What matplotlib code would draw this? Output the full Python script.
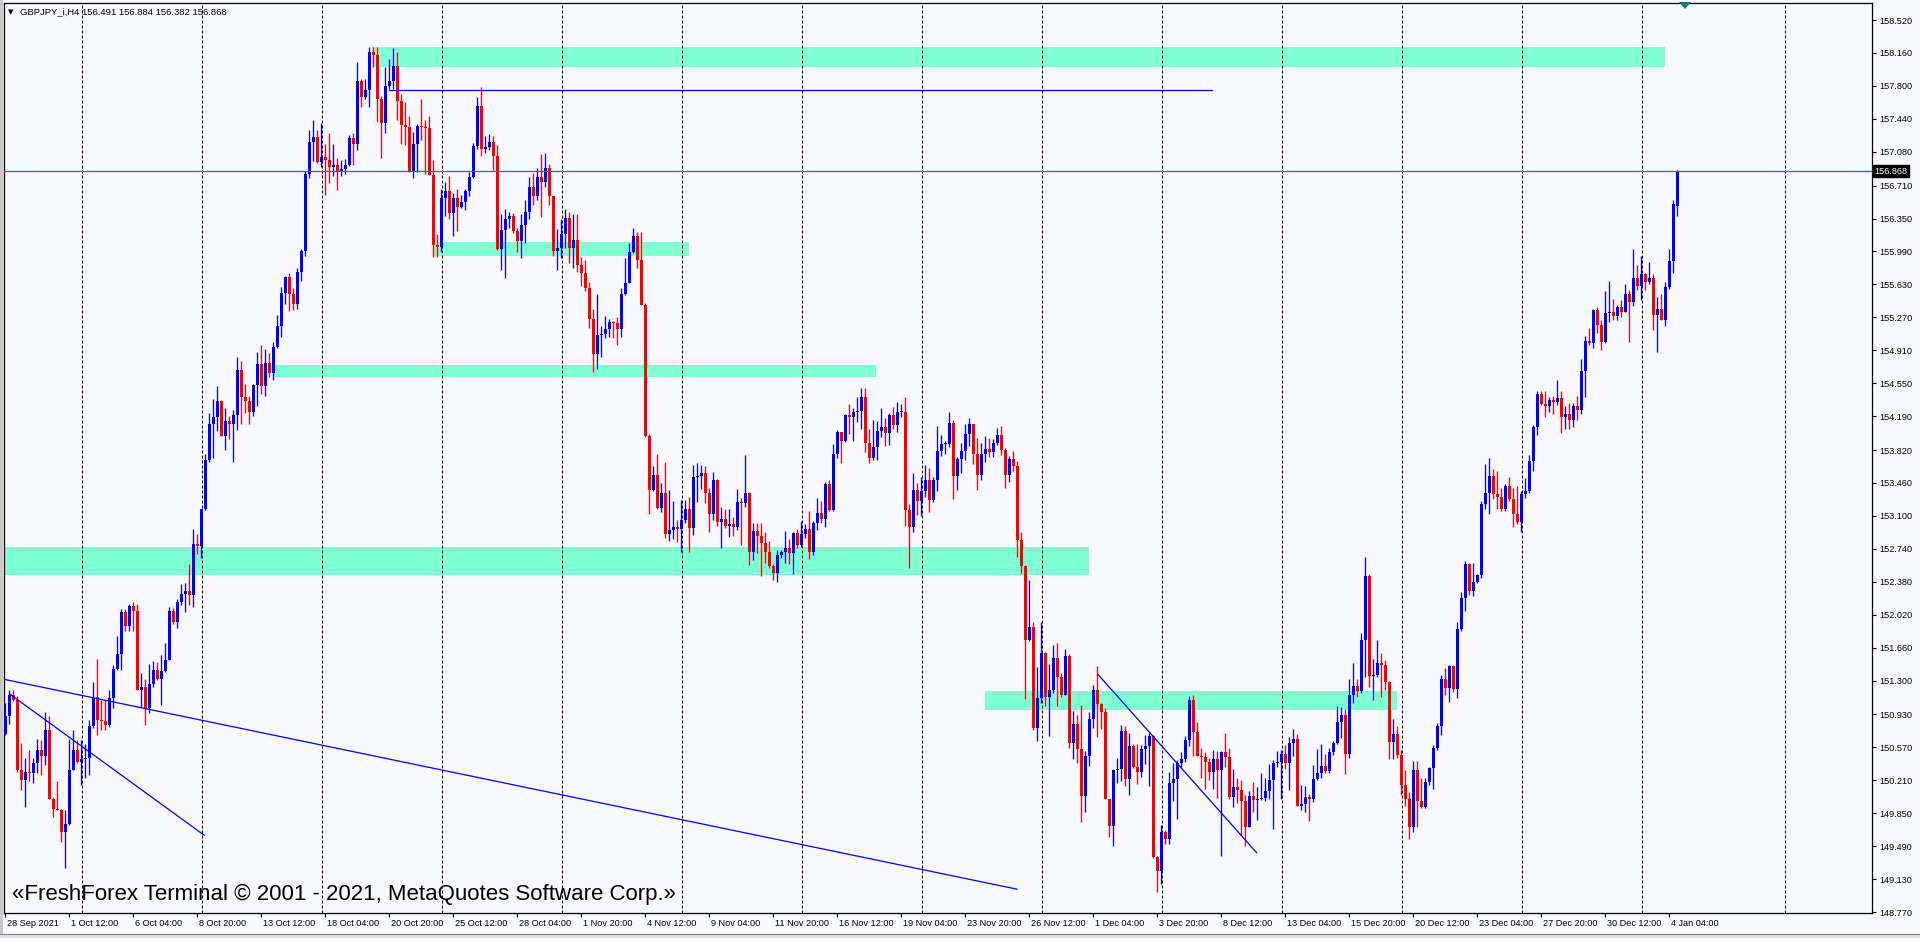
import numpy as np
import matplotlib
matplotlib.use('Agg')
import matplotlib.pyplot as plt
import matplotlib.transforms as mtransforms
from matplotlib.patches import Rectangle, Polygon

plt.rcParams['font.family'] = ['Liberation Sans', 'DejaVu Sans']

# GBPJPY_i H4 candles (open = previous close)
first_open = 150.72
close = [
    150.91, 151.14, 151.09, 150.32, 150.21, 150.30, 150.29, 150.40, 150.54, 150.47,
    150.76, 150.01, 149.90, 149.89, 149.64, 149.73, 150.32, 150.54, 150.41, 150.44,
    150.45, 150.80, 151.12, 150.87, 150.86, 150.81, 151.11, 151.43, 151.59, 152.05,
    151.90, 152.12, 152.06, 151.20, 151.23, 151.00, 151.26, 151.42, 151.32, 151.40,
    151.53, 152.06, 151.94, 152.16, 152.25, 152.28, 152.23, 152.79, 152.77, 153.17,
    153.71, 154.10, 154.18, 154.36, 153.97, 154.14, 154.10, 154.20, 154.69, 154.40,
    154.36, 154.24, 154.53, 154.76, 154.52, 154.77, 154.66, 154.95, 155.17, 155.54,
    155.71, 155.53, 155.42, 155.77, 155.99, 156.84, 157.19, 157.24, 156.97, 157.02,
    156.99, 156.91, 156.93, 156.86, 156.89, 156.93, 157.23, 157.17, 157.85, 157.68,
    157.75, 158.17, 158.14, 157.66, 157.39, 157.80, 157.85, 158.02, 157.63, 157.37,
    157.35, 156.86, 157.16, 157.36, 157.35, 157.34, 156.83, 156.06, 156.04, 156.57,
    156.65, 156.41, 156.57, 156.48, 156.53, 156.65, 156.80, 157.14, 157.58, 157.11,
    157.13, 157.19, 157.03, 156.02, 156.23, 156.35, 156.38, 156.21, 156.10, 156.28,
    156.42, 156.70, 156.60, 156.80, 156.75, 156.90, 156.60, 155.99, 156.03, 156.18,
    156.36, 156.03, 156.12, 155.84, 155.75, 155.59, 155.25, 154.87, 155.08, 155.09,
    155.14, 155.22, 155.21, 155.14, 155.53, 155.65, 155.98, 156.16, 155.90, 155.41,
    153.97, 153.38, 153.55, 153.19, 153.35, 152.90, 152.95, 152.98, 152.96, 153.06,
    153.18, 152.97, 153.52, 153.54, 153.57, 153.35, 153.12, 153.49, 153.03, 153.07,
    152.99, 153.01, 152.98, 153.25, 153.24, 153.35, 152.70, 152.94, 152.88, 152.80,
    152.70, 152.55, 152.48, 152.67, 152.71, 152.75, 152.69, 152.91, 152.78, 152.90,
    152.96, 152.70, 153.02, 153.13, 153.07, 153.45, 153.16, 153.78, 154.02, 153.92,
    154.20, 154.18, 154.23, 154.25, 154.40, 153.90, 153.73, 153.85, 154.03, 154.07,
    154.01, 154.20, 154.09, 154.23, 154.24, 153.16, 152.98, 153.38, 153.26, 153.37,
    153.49, 153.27, 153.49, 153.81, 153.89, 153.89, 154.11, 153.54, 153.72, 153.81,
    153.99, 154.10, 153.78, 153.55, 153.78, 153.83, 153.80, 153.90, 153.98, 153.82,
    153.55, 153.72, 153.64, 152.84, 152.55, 151.74, 151.88, 150.78, 151.11, 151.60,
    151.12, 151.20, 151.55, 151.34, 151.14, 151.57, 150.62, 150.83, 150.55, 150.04,
    150.48, 150.88, 151.20, 151.04, 150.96, 150.00, 149.71, 150.32, 150.33, 150.75,
    150.22, 150.59, 150.36, 150.30, 150.55, 150.58, 150.69, 149.37, 149.22, 149.65,
    149.57, 150.18, 150.22, 150.40, 150.44, 150.65, 151.09, 150.74, 150.48, 150.46,
    150.41, 150.30, 150.44, 150.32, 150.52, 150.46, 150.03, 150.14, 150.10, 149.98,
    149.70, 150.04, 149.99, 150.00, 150.02, 150.09, 150.21, 150.40, 150.41, 150.50,
    150.40, 150.62, 150.66, 149.93, 149.95, 150.03, 150.01, 150.22, 150.29, 150.37,
    150.31, 150.52, 150.62, 150.85, 150.92, 150.50, 151.14, 151.24, 151.19, 151.74,
    152.44, 151.35, 151.36, 151.49, 151.47, 151.28, 150.63, 150.72, 150.49, 150.16,
    150.01, 149.70, 150.32, 149.98, 149.92, 150.19, 150.34, 150.56, 150.80, 151.32,
    151.22, 151.46, 151.21, 151.86, 152.20, 152.57, 152.28, 152.38, 152.45, 153.23,
    153.35, 153.54, 153.34, 153.31, 153.18, 153.43, 153.28, 153.12, 153.03, 153.34,
    153.37, 153.70, 154.07, 154.43, 154.32, 154.30, 154.37, 154.35, 154.39, 154.18,
    154.21, 154.15, 154.30, 154.26, 154.68, 155.01, 154.99, 155.35, 155.19, 155.00,
    155.32, 155.33, 155.28, 155.38, 155.33, 155.52, 155.44, 155.70, 155.61, 155.74,
    155.66, 155.70, 155.30, 155.36, 155.24, 155.60, 155.89, 156.51, 156.868,
]
high = [
    151.05, 151.20, 151.20, 151.13, 150.62, 150.45, 150.54, 150.45, 150.66, 150.65,
    150.96, 150.91, 150.03, 150.20, 149.90, 149.89, 150.66, 150.76, 150.65, 150.65,
    150.61, 150.87, 151.28, 151.54, 151.09, 151.09, 151.20, 151.47, 151.79, 152.08,
    152.08, 152.14, 152.16, 152.14, 151.38, 151.32, 151.48, 151.51, 151.50, 151.58,
    151.71, 152.10, 152.09, 152.19, 152.36, 152.37, 152.57, 152.96, 152.90, 153.18,
    153.78, 154.22, 154.38, 154.52, 154.37, 154.28, 154.19, 154.26, 154.84, 154.79,
    154.54, 154.41, 154.54, 154.89, 154.97, 154.92, 154.88, 155.00, 155.30, 155.60,
    155.72, 155.76, 155.59, 155.81, 156.02, 156.87, 157.32, 157.43, 157.32, 157.39,
    157.16, 157.29, 157.17, 157.01, 156.99, 157.00, 157.26, 157.28, 158.06, 157.88,
    157.87, 158.23, 158.23, 158.22, 157.69, 158.01, 158.09, 158.21, 158.17, 157.71,
    157.62, 157.47, 157.30, 157.38, 157.66, 157.43, 157.47, 156.99, 156.18, 156.67,
    156.75, 156.82, 156.63, 156.67, 156.61, 156.67, 156.86, 157.18, 157.68, 157.79,
    157.25, 157.27, 157.25, 157.15, 156.40, 156.45, 156.42, 156.41, 156.25, 156.40,
    156.55, 156.80, 156.85, 156.90, 157.05, 157.07, 156.95, 156.45, 156.24, 156.35,
    156.45, 156.42, 156.40, 156.40, 155.93, 155.90, 155.66, 155.36, 155.53, 155.17,
    155.29, 155.25, 155.23, 155.27, 155.59, 155.92, 156.08, 156.25, 156.20, 156.20,
    155.43, 153.99, 153.65, 153.78, 153.46, 153.69, 153.38, 153.26, 153.06, 153.27,
    153.27, 153.31, 153.66, 153.68, 153.66, 153.65, 153.41, 153.58, 153.50, 153.20,
    153.17, 153.18, 153.09, 153.39, 153.29, 153.76, 153.36, 153.02, 153.02, 153.02,
    152.92, 152.82, 152.57, 152.73, 152.73, 152.93, 152.85, 152.92, 152.96, 153.04,
    153.01, 153.15, 153.04, 153.29, 153.26, 153.47, 153.49, 153.89, 154.04, 154.02,
    154.21, 154.32, 154.28, 154.40, 154.50, 154.50, 154.05, 154.15, 154.14, 154.28,
    154.17, 154.22, 154.29, 154.35, 154.32, 154.40, 153.23, 153.57, 153.46, 153.52,
    153.66, 153.62, 153.53, 154.08, 153.98, 153.92, 154.24, 154.15, 153.74, 153.90,
    154.10, 154.17, 154.10, 153.95, 153.90, 153.97, 153.95, 153.94, 154.06, 154.08,
    153.84, 153.75, 153.81, 153.70, 152.92, 152.56, 152.40, 151.94, 151.45, 151.94,
    151.61, 151.48, 151.69, 151.71, 151.38, 151.65, 151.59, 150.97, 150.92, 151.03,
    150.53, 150.96, 151.25, 151.46, 151.06, 151.00, 150.00, 150.33, 150.45, 150.81,
    150.80, 150.73, 150.61, 150.61, 150.60, 150.71, 150.73, 150.71, 149.38, 149.72,
    149.67, 150.30, 150.40, 150.43, 150.52, 150.69, 151.13, 151.14, 150.85, 150.56,
    150.52, 150.45, 150.54, 150.53, 150.53, 150.73, 150.56, 150.33, 150.23, 150.21,
    150.05, 150.09, 150.19, 150.14, 150.29, 150.24, 150.39, 150.43, 150.53, 150.54,
    150.60, 150.68, 150.77, 150.72, 150.16, 150.15, 150.06, 150.38, 150.55, 150.61,
    150.50, 150.56, 150.64, 151.02, 151.01, 150.99, 151.32, 151.49, 151.32, 151.82,
    152.65, 152.46, 151.54, 151.74, 151.60, 151.52, 151.30, 150.88, 150.80, 150.54,
    150.32, 150.08, 150.42, 150.42, 150.24, 150.23, 150.36, 150.60, 150.84, 151.36,
    151.44, 151.47, 151.47, 151.94, 152.27, 152.61, 152.59, 152.58, 152.47, 153.26,
    153.67, 153.73, 153.61, 153.59, 153.41, 153.45, 153.53, 153.41, 153.43, 153.37,
    153.51, 153.77, 154.09, 154.46, 154.47, 154.47, 154.40, 154.41, 154.59, 154.47,
    154.30, 154.33, 154.33, 154.41, 154.82, 155.07, 155.15, 155.36, 155.38, 155.24,
    155.56, 155.67, 155.47, 155.41, 155.46, 155.63, 155.57, 156.02, 155.84, 155.94,
    155.75, 155.88, 155.74, 155.49, 155.53, 155.66, 156.02, 156.55, 156.884,
]
low = [
    150.71, 150.83, 151.08, 150.30, 150.10, 149.92, 150.20, 150.18, 150.29, 150.27,
    150.38, 150.00, 149.81, 149.88, 149.53, 149.25, 149.72, 150.32, 150.40, 150.16,
    150.23, 150.27, 150.78, 150.70, 150.76, 150.76, 150.79, 151.00, 151.42, 151.42,
    151.84, 151.84, 151.84, 151.20, 151.00, 150.81, 150.94, 151.23, 151.31, 151.03,
    151.39, 151.52, 151.92, 151.87, 152.13, 152.05, 152.13, 152.10, 152.68, 152.64,
    153.16, 153.69, 153.73, 154.03, 153.97, 153.82, 153.94, 153.69, 154.04, 154.10,
    154.22, 154.10, 154.19, 154.30, 154.43, 154.41, 154.62, 154.59, 154.93, 155.05,
    155.42, 155.34, 155.35, 155.36, 155.67, 155.94, 156.79, 156.98, 156.96, 156.91,
    156.61, 156.74, 156.81, 156.66, 156.81, 156.84, 156.92, 156.93, 157.10, 157.57,
    157.66, 157.57, 158.01, 157.41, 157.01, 157.29, 157.77, 157.77, 157.43, 157.17,
    157.15, 156.86, 156.79, 156.86, 157.21, 156.84, 156.83, 155.93, 155.93, 155.98,
    156.38, 156.35, 156.16, 156.21, 156.46, 156.44, 156.60, 156.79, 157.11, 157.03,
    157.07, 157.10, 156.88, 156.01, 155.79, 155.70, 156.25, 156.19, 155.98, 155.92,
    156.08, 156.35, 156.50, 156.55, 156.37, 156.70, 156.50, 155.94, 155.79, 155.92,
    156.03, 155.86, 155.81, 155.77, 155.61, 155.56, 155.15, 154.67, 154.70, 154.84,
    155.04, 155.06, 155.04, 154.97, 155.06, 155.51, 155.64, 155.97, 155.81, 155.40,
    153.96, 153.12, 153.37, 153.18, 153.14, 152.86, 152.82, 152.85, 152.81, 152.70,
    153.02, 152.71, 152.89, 153.25, 153.39, 153.24, 152.92, 153.05, 152.99, 152.75,
    152.97, 152.87, 152.88, 152.95, 152.78, 153.20, 152.56, 152.62, 152.69, 152.44,
    152.58, 152.53, 152.40, 152.38, 152.64, 152.58, 152.57, 152.47, 152.75, 152.76,
    152.86, 152.63, 152.67, 152.95, 153.02, 152.98, 153.15, 153.15, 153.73, 153.68,
    153.91, 154.00, 153.92, 154.13, 154.05, 153.80, 153.68, 153.71, 153.71, 153.96,
    153.86, 153.88, 154.05, 154.02, 154.18, 152.99, 152.53, 152.92, 153.11, 153.10,
    153.31, 153.14, 153.25, 153.37, 153.75, 153.78, 153.85, 153.28, 153.38, 153.57,
    153.71, 153.86, 153.67, 153.38, 153.49, 153.69, 153.74, 153.74, 153.87, 153.77,
    153.41, 153.47, 153.59, 152.65, 152.48, 151.10, 151.73, 150.76, 150.64, 151.05,
    151.02, 150.69, 151.16, 151.02, 151.12, 151.14, 150.56, 150.44, 150.40, 149.75,
    149.86, 150.37, 150.78, 150.68, 150.77, 150.00, 149.59, 149.49, 150.18, 150.20,
    150.15, 150.05, 150.34, 150.17, 150.25, 150.39, 150.15, 149.36, 148.99, 149.08,
    149.51, 149.51, 149.98, 149.79, 150.36, 150.41, 150.59, 150.48, 150.47, 150.24,
    150.12, 150.21, 150.12, 150.02, 149.38, 150.36, 150.00, 149.92, 149.96, 149.61,
    149.49, 149.70, 149.86, 149.78, 149.99, 149.98, 150.00, 149.68, 150.35, 150.01,
    150.33, 150.10, 150.47, 149.93, 149.89, 149.86, 149.77, 149.97, 150.21, 150.24,
    150.29, 150.29, 150.49, 150.61, 150.67, 150.28, 150.45, 151.06, 151.12, 151.16,
    151.34, 151.23, 151.09, 151.34, 151.12, 151.20, 150.44, 150.44, 150.45, 150.05,
    149.93, 149.57, 149.65, 149.70, 149.91, 149.91, 150.16, 150.12, 150.54, 150.71,
    151.14, 151.07, 151.18, 151.11, 151.84, 152.06, 152.24, 152.22, 152.37, 152.42,
    153.17, 153.12, 153.28, 153.18, 153.15, 153.15, 153.26, 152.98, 153.01, 152.92,
    153.29, 153.35, 153.59, 153.98, 154.31, 154.18, 154.24, 154.21, 154.31, 154.01,
    154.05, 154.05, 154.07, 154.15, 154.21, 154.40, 154.97, 154.94, 155.10, 154.91,
    154.99, 155.22, 155.24, 155.24, 155.27, 155.33, 155.00, 155.39, 155.57, 155.46,
    155.57, 155.63, 155.13, 154.89, 155.24, 155.18, 155.58, 155.75, 156.382,
]
last_ohlc = [156.491, 156.884, 156.382, 156.868]

# time axis labels, one every 16 bars
time_labels = [
    '28 Sep 2021', '1 Oct 12:00', '6 Oct 04:00', '8 Oct 20:00', '13 Oct 12:00',
    '18 Oct 04:00', '20 Oct 20:00', '25 Oct 12:00', '28 Oct 04:00', '1 Nov 20:00',
    '4 Nov 12:00', '9 Nov 04:00', '11 Nov 20:00', '16 Nov 12:00', '19 Nov 04:00',
    '23 Nov 20:00', '26 Nov 12:00', '1 Dec 04:00', '3 Dec 20:00', '8 Dec 12:00',
    '13 Dec 04:00', '15 Dec 20:00', '20 Dec 12:00', '23 Dec 04:00', '27 Dec 20:00',
    '30 Dec 12:00', '4 Jan 04:00',
]
price_ticks = [
    158.520, 158.160, 157.800, 157.440, 157.080, 156.710, 156.350, 155.990,
    155.630, 155.270, 154.910, 154.550, 154.190, 153.820, 153.460, 153.100,
    152.740, 152.380, 152.020, 151.660, 151.300, 150.930, 150.570, 150.210,
    149.850, 149.490, 149.130, 148.770,
]

# objects drawn on the chart: zones (bar from, bar to, price low, price high)
zones = [
    (91.6, 415.0, 158.01, 158.23),
    (107.0, 170.9, 155.94, 156.09),
    (67.0, 217.6, 154.62, 154.75),
    (-1.0, 270.9, 152.45, 152.76),
    (244.9, 347.9, 150.98, 151.19),
]
# trend lines (bar, price, bar, price)
trend_lines = [
    (95.9, 157.76, 301.7, 157.76),
    (-1.0, 151.32, 252.9, 149.02),
    (1.2, 151.15, 49.7, 149.61),
    (273.1, 151.37, 312.8, 149.42),
]
# week separators (bar positions)
week_grid = [19.1 + 30 * k for k in range(14)] + [444.9]

W, H = 1920, 938
BG = '#F8F8FF'
BULL = '#0000FF'
BEAR = '#FF0000'

fig = plt.figure(figsize=(W / 100, H / 100), dpi=100)
fig.patch.set_facecolor(BG)

# window frame: grey strip on the left, tab bar at the bottom
fig.patches.append(Rectangle((0, 0), 3 / W, 1, transform=fig.transFigure,
                             fc='#C8C8C8', ec='none'))
fig.patches.append(Rectangle((0, 0), 1, 4 / H, transform=fig.transFigure,
                             fc='#E4E4E4', ec='none'))
fig.add_artist(plt.Line2D([0, 1], [4 / H, 4 / H], transform=fig.transFigure,
                          color='#808080', lw=0.8))

# plot frame in pixels: left 4, right 1872, top 3, bottom 913
BOT = 913
ax = fig.add_axes([4 / W, (H - BOT) / H, (1872 - 4) / W, (BOT - 3) / H])
ax.set_facecolor(BG)

ymax = 158.52 + 17 / 91.49
ymin = 158.52 - (BOT - 20) / 91.49
ax.set_ylim(ymin, ymax)
ax.set_xlim(-0.325, 466.675)

c = np.array(close)
o = np.concatenate([[first_open], c[:-1]])
o[-1] = last_ohlc[0]
h = np.maximum(np.array(high), np.maximum(o, c))
l = np.minimum(np.array(low), np.minimum(o, c))
idx = np.arange(len(c))
cols = np.where(c >= o, BULL, BEAR)

for x0, x1, p0, p1 in zones:
    ax.add_patch(Rectangle((x0, p0), x1 - x0, p1 - p0, facecolor='#7FFFD4',
                           edgecolor='none', zorder=1))

for gx in week_grid:
    ax.axvline(gx, color='black', lw=0.72, ls=(0, (3, 2)), zorder=2)

ax.vlines(idx, l, h, colors=cols, lw=0.9, zorder=3)
body = np.maximum(np.abs(c - o), 0.011)
ax.bar(idx, body, bottom=np.minimum(o, c), width=0.75, color=cols, lw=0, zorder=4)

for x0, p0, x1, p1 in trend_lines:
    ax.plot([x0, x1], [p0, p1], color='#0000FF', lw=0.9, zorder=5)

# last price line
ax.axhline(last_ohlc[3], color='#008080', lw=0.9, zorder=5)

# axes / ticks
for s in ax.spines.values():
    s.set_color('black')
    s.set_linewidth(0.9)
ax.yaxis.tick_right()
ax.set_yticks(price_ticks)
ax.set_yticklabels(['%.3f' % p for p in price_ticks])
ax.tick_params(axis='y', direction='out', length=3, width=0.8, pad=2,
               labelsize=6.6, colors='black')
ax.set_xticks(np.arange(len(time_labels)) * 16)
ax.set_xticklabels(time_labels, ha='left')
ax.tick_params(axis='x', direction='out', length=3, width=0.8, pad=1.5,
               labelsize=6.6, colors='black')
shift = mtransforms.ScaledTranslation(2 / 100, 0, fig.dpi_scale_trans)
for lab in ax.get_xticklabels():
    lab.set_transform(lab.get_transform() + shift)

# current price tag on the price scale
tag = mtransforms.blended_transform_factory(ax.transAxes, ax.transData)
ax.text(1.0012, last_ohlc[3], '%.3f' % last_ohlc[3], transform=tag, ha='left',
        va='center', fontsize=6.6, color='white', zorder=10, clip_on=False,
        bbox=dict(boxstyle='square,pad=0.15', fc='black', ec='black'))

# chart header
fig.text(8 / W, 1 - 12 / H, '\u25BC', fontsize=5, color='black', va='center',
         family=['DejaVu Sans'])
fig.text(20 / W, 1 - 12 / H, 'GBPJPY_i,H4 ' + ' '.join('%.3f' % v for v in last_ohlc),
         fontsize=6.8, color='black', va='center')

# shift marker at top
fig.patches.append(Polygon([[1679 / W, 1 - 2 / H], [1691 / W, 1 - 2 / H], [1685 / W, 1 - 9 / H]],
                           closed=True, transform=fig.transFigure, fc='#008080', ec='none'))

fig.text(12 / W, 1 - 894 / H,
         '\u00abFreshForex Terminal \u00a9 2001 - 2021, MetaQuotes Software Corp.\u00bb',
         fontsize=16, color='black', va='center')

fig.savefig('out.png', dpi=100, facecolor=fig.get_facecolor())
